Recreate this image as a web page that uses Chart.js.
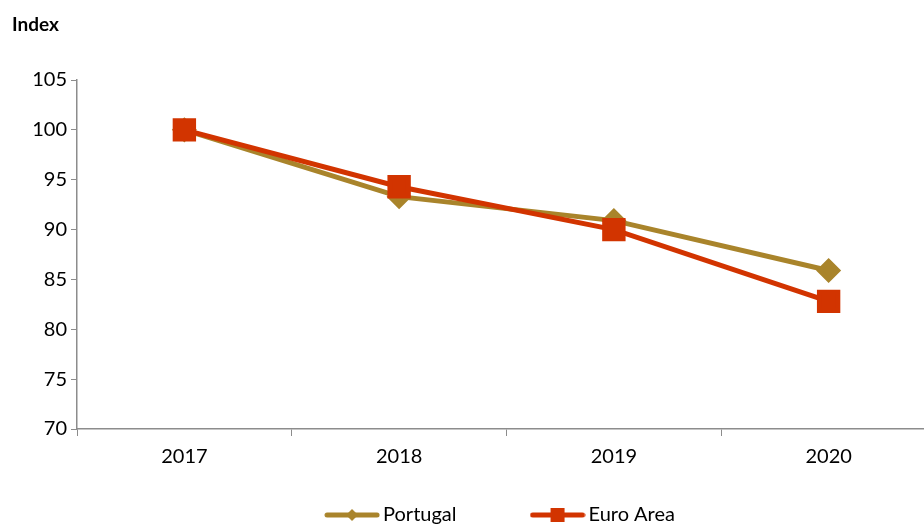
<!DOCTYPE html>
<html>
<head>
<meta charset="utf-8">
<script src="https://cdn.jsdelivr.net/npm/chart.js@4/dist/chart.umd.min.js"></script>
<style>
  html, body { margin: 0; padding: 0; background: #fff; overflow: hidden; }
  #wrap { position: relative; width: 954px; height: 535px; }
  #unit { position: absolute; left: 12px; top: 12px; font: bold 19px Lato, "Open Sans", sans-serif; color: #000; }
</style>
</head>
<body>
<div id="wrap">
  <div id="unit">Index</div>
  <canvas id="chart"></canvas>
</div>
<script>
// dados
const anos = ['2017', '2018', '2019', '2020'];
const portugal = [100, 93.3, 90.9, 85.9];
const euroArea = [100, 94.3, 90.0, 82.8];
const yTicks = [70, 75, 80, 85, 90, 95, 100, 105];

const COR_PT = '#A9842B';
const COR_EA = '#D23400';
const FONTE = 'Lato, "Open Sans", sans-serif';

// amostra da legenda: linha com marcador no meio
function amostra(cor, tipo) {
    const c = document.createElement('canvas');
    c.width = 56; c.height = 20;
    const g = c.getContext('2d');
    g.strokeStyle = cor;
    g.lineWidth = 5;
    g.lineCap = 'round';
    g.beginPath(); g.moveTo(3, 10); g.lineTo(53, 10); g.stroke();
    g.fillStyle = cor;
    g.beginPath();
    if (tipo === 'diamante') {
        g.moveTo(28, 4); g.lineTo(34, 10); g.lineTo(28, 16); g.lineTo(22, 10);
    } else {
        g.rect(21, 3, 14, 14);
    }
    g.fill();
    return c;
}
const iconePT = amostra(COR_PT, 'diamante');
const iconeEA = amostra(COR_EA, 'quadrado');

// a legenda original está um pouco deslocada para a direita
const moverLegenda = {
    id: 'moverLegenda',
    afterLayout(chart) {
        if (!chart.legend) return;
        chart.legend.left += 28;
        chart.legend.right += 28;
    }
};

Chart.defaults.font.family = FONTE;
Chart.defaults.color = '#000';

new Chart(document.getElementById('chart'), {
    type: 'line',
    data: {
        labels: anos,
        datasets: [
            {
                label: 'Portugal',
                data: portugal,
                borderColor: COR_PT,
                backgroundColor: COR_PT,
                borderWidth: 5,
                pointStyle: 'rectRot',
                pointRadius: 9,
                pointHoverRadius: 9,
                order: 1,
                legendIcon: iconePT
            },
            {
                label: 'Euro Area',
                data: euroArea,
                borderColor: COR_EA,
                backgroundColor: COR_EA,
                borderWidth: 5,
                pointStyle: 'rect',
                pointRadius: 13,
                pointHoverRadius: 13,
                order: 0,
                legendIcon: iconeEA
            }
        ]
    },
    plugins: [moverLegenda],
    options: {
        responsive: true,
        maintainAspectRatio: false,
        animation: false,
        layout: { padding: { top: 80, right: 4, left: 0, bottom: 0 } },
        scales: {
            x: {
                offset: true,
                grid: { display: true, offset: true, drawOnChartArea: false, tickLength: 7, color: '#8c8c8c', lineWidth: 1 },
                border: { color: '#8c8c8c', width: 1.5 },
                ticks: { font: { size: 20 }, padding: 9, maxRotation: 0 },
                afterFit: s => { s.height = 56; }
            },
            y: {
                min: 70,
                max: 105,
                afterBuildTicks: s => { s.ticks = yTicks.map(v => ({ value: v })); },
                grid: { display: true, drawOnChartArea: false, tickLength: 6, color: '#8c8c8c' },
                border: { color: '#8c8c8c', width: 1.5 },
                ticks: { font: { size: 20 }, padding: 4 },
                afterFit: s => { s.width = 77; }
            }
        },
        plugins: {
            tooltip: { enabled: false },
            legend: {
                position: 'bottom',
                labels: {
                    usePointStyle: true,
                    pointStyleWidth: 42,
                    font: { size: 20 },
                    padding: 20,
                    // espaços no fim do 1º item para afastar os dois itens
                    generateLabels: chart => chart.data.datasets.map((ds, i) => ({
                        text: i === 0 ? ds.label + '\u2003\u2003\u2003\u2003' : ds.label,
                        pointStyle: ds.legendIcon,
                        fillStyle: ds.borderColor,
                        strokeStyle: ds.borderColor,
                        lineWidth: 0,
                        hidden: false,
                        datasetIndex: i,
                        fontColor: '#000'
                    }))
                }
            }
        }
    }
});
</script>
</body>
</html>
